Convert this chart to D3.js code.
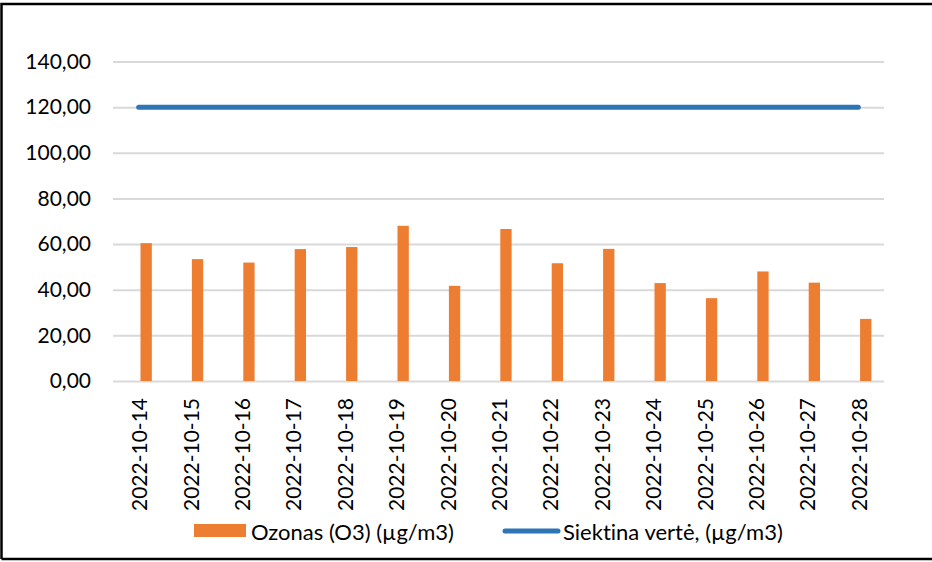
<!DOCTYPE html>
<html>
<head>
<meta charset="utf-8">
<script src="https://cdn.jsdelivr.net/npm/d3@7"></script>
<style>
  body { margin: 0; background: #fff; }
  svg { display: block; font-family: Lato, "Open Sans", sans-serif; font-variant-ligatures: none; }
</style>
</head>
<body>
<svg id="chart" width="932" height="562"></svg>
<script>
// data
var dates = ['2022-10-14', '2022-10-15', '2022-10-16', '2022-10-17', '2022-10-18',
  '2022-10-19', '2022-10-20', '2022-10-21', '2022-10-22', '2022-10-23',
  '2022-10-24', '2022-10-25', '2022-10-26', '2022-10-27', '2022-10-28'];
var ozone = [60.4, 53.4, 51.9, 57.8, 58.7, 68.0, 41.7, 66.6, 51.6, 57.9,
  42.9, 36.3, 48.0, 43.1, 27.2];
var target = dates.map(function() { return 120; });
var yTicks = [0, 20, 40, 60, 80, 100, 120, 140];
var seriesNames = ['Ozonas (O3) (µg/m3)', 'Siektina vertė, (µg/m3)'];

var svg = d3.select('#chart');
var orange = '#ED7D31';
var blue = '#2E75B6';
var grid = '#D9D9D9';
var fmt = function(d) { return d3.format('.2f')(d).replace('.', ','); };

var x = d3.scaleBand().domain(dates).range([113, 884]).padding(0);
var y = d3.scaleLinear().domain([0, 140]).range([381, 61.5]);

// frame
svg.append('path')
    .attr('d', 'M1.5,559 L1.5,4 L932,4 M1.5,559 L932,559')
    .attr('fill', 'none')
    .attr('stroke', '#000')
    .attr('stroke-width', 2.5);

// gridlines + y labels
var yAxis = svg.append('g')
    .attr('transform', 'translate(113,0)')
    .call(d3.axisLeft(y).tickValues(yTicks).tickSize(-(884 - 113)).tickFormat(fmt).tickPadding(22));
yAxis.select('.domain').remove();
yAxis.selectAll('.tick line').attr('stroke', grid).attr('stroke-width', 2);
yAxis.selectAll('.tick text')
    .attr('font-size', 21)
    .attr('fill', '#000')
    .attr('font-family', 'Lato, sans-serif');

// bars
var bw = x.bandwidth();
svg.append('g').selectAll('rect')
    .data(ozone)
    .join('rect')
    .attr('x', function(d, i) { return x(dates[i]) + bw / 2 + bw * 0.035; })
    .attr('y', function(d) { return y(d); })
    .attr('width', bw * 0.22)
    .attr('height', function(d) { return y(0) - y(d); })
    .attr('fill', orange);

// target line
var line = d3.line()
    .x(function(d, i) { return x(dates[i]) + bw / 2; })
    .y(function(d) { return y(d); });
svg.append('path')
    .datum(target)
    .attr('d', line)
    .attr('fill', 'none')
    .attr('stroke', blue)
    .attr('stroke-width', 5)
    .attr('stroke-linecap', 'round');

// x labels, rotated
var xAxis = svg.append('g')
    .attr('transform', 'translate(0,381)')
    .call(d3.axisBottom(x).tickSize(0).tickPadding(0));
xAxis.select('.domain').remove();
xAxis.selectAll('.tick text')
    .attr('font-size', 21)
    .attr('fill', '#000')
    .attr('font-family', 'Lato, sans-serif')
    .attr('transform', 'rotate(-90)')
    .attr('text-anchor', 'end')
    .attr('dominant-baseline', 'central')
    .attr('x', -17)
    .attr('y', 0)
    .attr('dy', null);

// legend
var legend = svg.append('g');
legend.append('rect')
    .attr('x', 194).attr('y', 524)
    .attr('width', 52).attr('height', 13)
    .attr('fill', orange);
legend.append('text')
    .attr('x', 251).attr('y', 531)
    .attr('dominant-baseline', 'central')
    .attr('font-size', 22)
    .text(seriesNames[0]);
legend.append('line')
    .attr('x1', 505).attr('x2', 558)
    .attr('y1', 531).attr('y2', 531)
    .attr('stroke', blue)
    .attr('stroke-width', 5)
    .attr('stroke-linecap', 'round');
legend.append('text')
    .attr('x', 563).attr('y', 531)
    .attr('dominant-baseline', 'central')
    .attr('font-size', 22)
    .text(seriesNames[1]);
</script>
</body>
</html>
